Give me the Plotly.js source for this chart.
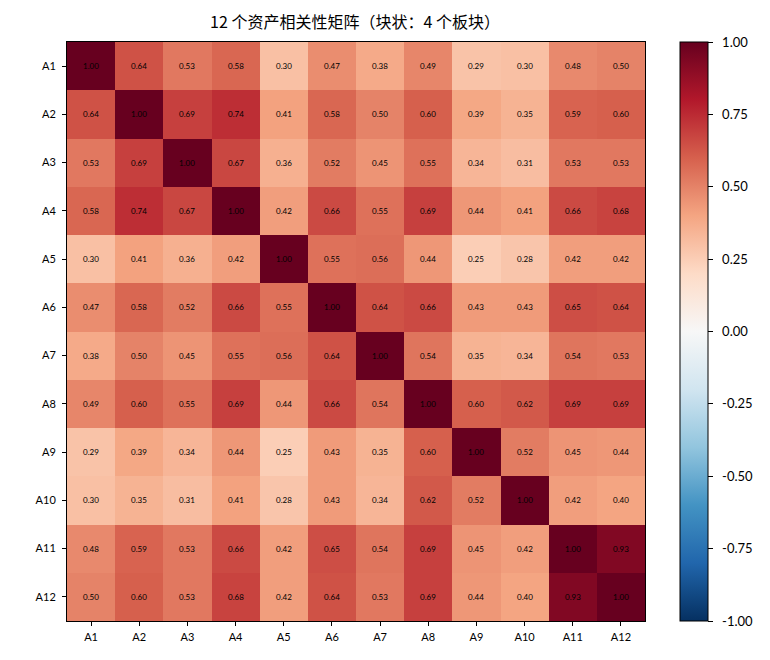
<!DOCTYPE html>
<html>
<head>
<meta charset="utf-8">
<script src="https://cdn.plot.ly/plotly-3.0.1.min.js"></script>
<style>
  html, body { margin: 0; padding: 0; background: #ffffff; }
  #chart { width: 770px; height: 660px; }
</style>
</head>
<body>
<div id="chart"></div>
<script>
// Asset labels
const assets = ['A1', 'A2', 'A3', 'A4', 'A5', 'A6', 'A7', 'A8', 'A9', 'A10', 'A11', 'A12'];

// Correlation rows, one per asset
const rowA1  = [1.00, 0.64, 0.53, 0.58, 0.30, 0.47, 0.38, 0.49, 0.29, 0.30, 0.48, 0.50];
const rowA2  = [0.64, 1.00, 0.69, 0.74, 0.41, 0.58, 0.50, 0.60, 0.39, 0.35, 0.59, 0.60];
const rowA3  = [0.53, 0.69, 1.00, 0.67, 0.36, 0.52, 0.45, 0.55, 0.34, 0.31, 0.53, 0.53];
const rowA4  = [0.58, 0.74, 0.67, 1.00, 0.42, 0.66, 0.55, 0.69, 0.44, 0.41, 0.66, 0.68];
const rowA5  = [0.30, 0.41, 0.36, 0.42, 1.00, 0.55, 0.56, 0.44, 0.25, 0.28, 0.42, 0.42];
const rowA6  = [0.47, 0.58, 0.52, 0.66, 0.55, 1.00, 0.64, 0.66, 0.43, 0.43, 0.65, 0.64];
const rowA7  = [0.38, 0.50, 0.45, 0.55, 0.56, 0.64, 1.00, 0.54, 0.35, 0.34, 0.54, 0.53];
const rowA8  = [0.49, 0.60, 0.55, 0.69, 0.44, 0.66, 0.54, 1.00, 0.60, 0.62, 0.69, 0.69];
const rowA9  = [0.29, 0.39, 0.34, 0.44, 0.25, 0.43, 0.35, 0.60, 1.00, 0.52, 0.45, 0.44];
const rowA10 = [0.30, 0.35, 0.31, 0.41, 0.28, 0.43, 0.34, 0.62, 0.52, 1.00, 0.42, 0.40];
const rowA11 = [0.48, 0.59, 0.53, 0.66, 0.42, 0.65, 0.54, 0.69, 0.45, 0.42, 1.00, 0.93];
const rowA12 = [0.50, 0.60, 0.53, 0.68, 0.42, 0.64, 0.53, 0.69, 0.44, 0.40, 0.93, 1.00];

const corr = [rowA1, rowA2, rowA3, rowA4, rowA5, rowA6, rowA7, rowA8, rowA9, rowA10, rowA11, rowA12];

// Colorbar ticks
const cbTicks = [-1.00, -0.75, -0.50, -0.25, 0.00, 0.25, 0.50, 0.75, 1.00];

// Diverging blue-white-red scale (ColorBrewer RdBu, reversed)
const rdbuColors = ['#053061', '#2166ac', '#4393c3', '#92c5de', '#d1e5f0', '#f7f7f7',
                    '#fddbc7', '#f4a582', '#d6604d', '#b2182b', '#67001f'];
const colorscale = rdbuColors.map((c, i) => [i / (rdbuColors.length - 1), c]);

const FONT = 'Lato, "Noto Sans", "Noto Sans CJK SC", sans-serif';

const trace = {
  type: 'heatmap',
  x: assets,
  y: assets,
  z: corr,
  zmin: -1,
  zmax: 1,
  colorscale: colorscale,
  texttemplate: '%{z:.2f}',
  textfont: { size: 8, color: '#000000', family: FONT },
  xgap: 0, ygap: 0,
  hovertemplate: '%{y} / %{x}: %{z:.2f}<extra></extra>',
  colorbar: {
    x: (680 - 67) / 578,
    xanchor: 'left',
    xref: 'paper',
    y: 0.5,
    yanchor: 'middle',
    len: 1,
    lenmode: 'fraction',
    thickness: 28,
    thicknessmode: 'pixels',
    outlinewidth: 1,
    outlinecolor: '#000000',
    tickmode: 'array',
    tickvals: cbTicks,
    ticktext: cbTicks.map(v => '\u2002' + v.toFixed(2)),
    ticks: 'outside',
    ticklen: 5,
    tickwidth: 1,
    tickcolor: '#000000',
    tickfont: { size: 13, color: '#000000', family: FONT },
    xpad: 0,
    ypad: 0
  }
};

const layout = {
  width: 770,
  height: 660,
  margin: { l: 67, r: 125, t: 42, b: 39 },
  paper_bgcolor: '#ffffff',
  plot_bgcolor: '#ffffff',
  font: { family: FONT, color: '#000000' },
  title: {
    text: '12 个资产相关性矩阵（块状：4 个板块）',
    font: { size: 16, color: '#000000', family: '"Noto Sans CJK SC", sans-serif' },
    x: 355 / 770,
    xanchor: 'center',
    y: 1 - 22 / 660,
    yanchor: 'middle'
  },
  xaxis: {
    type: 'category',
    tickmode: 'array',
    tickvals: assets,
    ticktext: assets,
    ticks: 'outside',
    ticklen: 4,
    tickwidth: 1,
    tickcolor: '#000000',
    ticklabelstandoff: 2,
    tickfont: { size: 11, color: '#000000', family: FONT },
    showline: true,
    linecolor: '#000000',
    linewidth: 1,
    mirror: true,
    showgrid: false,
    zeroline: false
  },
  yaxis: {
    type: 'category',
    autorange: 'reversed',
    tickmode: 'array',
    tickvals: assets,
    ticktext: assets,
    ticks: 'outside',
    ticklen: 4,
    tickwidth: 1,
    tickcolor: '#000000',
    ticklabelstandoff: 4,
    tickfont: { size: 11, color: '#000000', family: FONT },
    showline: true,
    linecolor: '#000000',
    linewidth: 1,
    mirror: true,
    showgrid: false,
    zeroline: false
  }
};

Plotly.newPlot('chart', [trace], layout, { displayModeBar: false, staticPlot: true });
</script>
</body>
</html>
